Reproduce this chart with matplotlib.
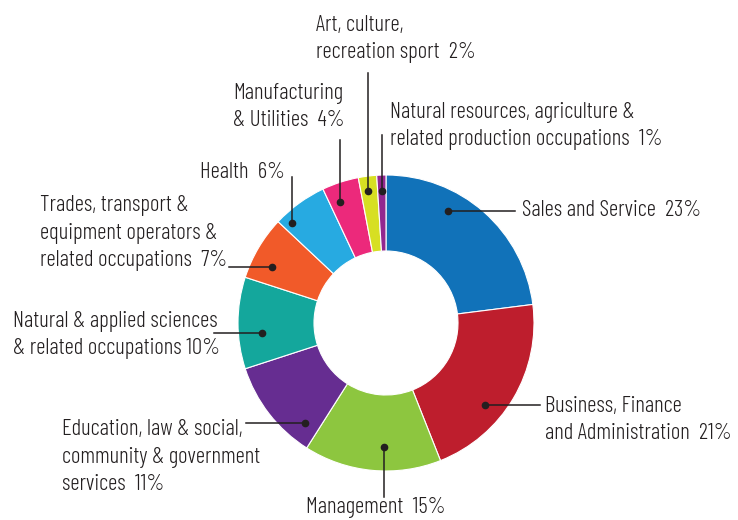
import numpy as np
import matplotlib
matplotlib.use("Agg")
import matplotlib.pyplot as plt

plt.rcParams['font.family'] = ['Barlow Condensed', 'DejaVu Sans']

# donnees
categories = ["Sales and Service", "Business, Finance\nand Administration", "Management",
              "Education, law & social,\ncommunity & government\nservices", "Natural & applied sciences\n& related occupations",
              "Trades, transport &\nequipment operators &\nrelated occupations", "Health",
              "Manufacturing\n& Utilities", "Art, culture,\nrecreation sport",
              "Natural resources, agriculture &\nrelated production occupations"]
valeurs = [23, 21, 15, 11, 10, 7, 6, 4, 2, 1]
sep = ["  ", "  ", "  ", "  ", " ", "  ", "  ", "  ", "  ", "  "]
couleurs = ["#1172b9", "#be1e2d", "#8dc63f", "#662d91", "#14a79c",
            "#f15a29", "#27aae1", "#ec297b", "#d7df23", "#92278f"]

W, H = 738, 520
cx, cy = 386, 323          # centre en pixels (y vers le bas)
R, ep = 148, 76

# placement des etiquettes : (frac dans la part, rayon du point, type de trait, fin du trait, x, y, ha)
place = [
    (0.35, 128, 'h', 515, 522, 210, 'left'),
    (0.62, 128, 'h', 540, 545, 420, 'left'),
    (0.42, 124, 'v', 497, 376, 507, 'center'),
    (0.17, 129, 'h', 246, 62, 457, 'left'),
    (0.37, 124, 'h', 214, 13, 335, 'left'),
    (0.33, 127, 'h', 229, 40, 233, 'left'),
    (0.17, 137, 'v', 177, 285, 173, 'right'),
    (0.30, 129, 'v', 140, 233, 107, 'left'),
    (0.42, 133, 'v', 73, 316, 39, 'left'),
    (0.50, 132, 'v', 135, 390, 126, 'left'),
]

fig = plt.figure(figsize=(W / 100, H / 100), dpi=100)
ax = fig.add_axes([0, 0, 1, 1])

ax.pie(valeurs, colors=couleurs, center=(cx, H - cy), radius=R, startangle=90,
       counterclock=False, wedgeprops=dict(width=ep, edgecolor='white', linewidth=0.8))

ax.set_xlim(0, W)
ax.set_ylim(0, H)
ax.set_aspect('equal')
ax.axis('off')

col_txt = "#231f20"
debut = 0
for i in range(len(valeurs)):
    frac, r, sens, fin, tx, ty, ha = place[i]
    a = np.radians((debut + frac * valeurs[i]) * 3.6)
    px = cx + r * np.sin(a)
    py = (H - cy) + r * np.cos(a)
    if sens == 'h':
        ax.plot([px, fin], [py, py], color=col_txt, lw=1.1)
    else:
        ax.plot([px, px], [py, H - fin], color=col_txt, lw=1.1)
    ax.plot(px, py, 'o', color=col_txt, ms=4.5)
    ax.text(tx, H - ty, categories[i] + sep[i] + str(valeurs[i]) + "%", ha=ha, va='center',
            multialignment='left', fontsize=16.5, fontweight=300, color=col_txt, linespacing=1.4)
    debut += valeurs[i]

fig.savefig("out.png", dpi=100)
